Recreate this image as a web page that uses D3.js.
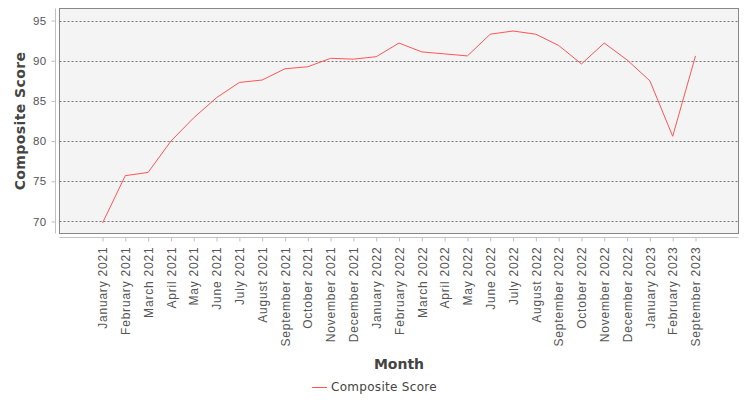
<!DOCTYPE html>
<html>
<head>
<meta charset="utf-8">
<script src="https://cdn.jsdelivr.net/npm/d3@7"></script>
<style>
  body { margin: 0; background: #fff; }
  svg { display: block; font-family: "DejaVu Sans", sans-serif; }
</style>
</head>
<body>
<div id="chart"></div>
<script>
const months = ['January 2021', 'February 2021', 'March 2021', 'April 2021', 'May 2021', 'June 2021',
	'July 2021', 'August 2021', 'September 2021', 'October 2021', 'November 2021', 'December 2021',
	'January 2022', 'February 2022', 'March 2022', 'April 2022', 'May 2022', 'June 2022',
	'July 2022', 'August 2022', 'September 2022', 'October 2022', 'November 2022', 'December 2022',
	'January 2023', 'February 2023', 'September 2023'];
const scores = [69.8, 75.7, 76.1, 80.0, 82.9, 85.4, 87.3, 87.6, 89.0, 89.25, 90.3, 90.2,
	90.5, 92.2, 91.1, 90.85, 90.6, 93.3, 93.7, 93.3, 91.9, 89.6, 92.2, 90.1,
	87.5, 80.6, 90.6];
const yTicks = [70, 75, 80, 85, 90, 95];

const w = 750;
const h = 400;
const plot = {left: 59.5, top: 8.5, right: 738.5, bottom: 233.5};

const svg = d3.select('#chart')
	.append('svg')
	.attr('width', w)
	.attr('height', h);

const x = d3.scalePoint()
	.domain(months)
	.range([plot.left + 43, plot.right - 43]);

const y = d3.scaleLinear()
	.domain([68.5, 96.5])
	.range([plot.bottom, plot.top]);

// plot background
svg.append('rect')
	.attr('x', plot.left)
	.attr('y', plot.top)
	.attr('width', plot.right - plot.left)
	.attr('height', plot.bottom - plot.top)
	.attr('fill', '#f4f4f4');

// grid lines
svg.append('g')
	.selectAll('line')
	.data(yTicks)
	.enter()
	.append('line')
	.attr('x1', plot.left)
	.attr('x2', plot.right)
	.attr('y1', d => Math.round(y(d)) + 0.5)
	.attr('y2', d => Math.round(y(d)) + 0.5)
	.attr('stroke', '#777')
	.attr('stroke-width', 1)
	.attr('stroke-dasharray', '2,2');

// plot border
svg.append('rect')
	.attr('x', plot.left)
	.attr('y', plot.top)
	.attr('width', plot.right - plot.left)
	.attr('height', plot.bottom - plot.top)
	.attr('fill', 'none')
	.attr('stroke', '#888');

// y axis
const yAxis = svg.append('g')
	.attr('transform', 'translate(55.5,0)')
	.call(d3.axisLeft(y).tickValues(yTicks).tickSize(4).tickPadding(5));
yAxis.select('.domain').attr('stroke', '#c0c0c0').attr('d', `M0,${plot.top}V${plot.bottom}`);
yAxis.selectAll('.tick line').attr('stroke', '#c0c0c0');
yAxis.selectAll('.tick text')
	.attr('fill', '#555')
	.attr('font-size', '11.5px')
	.attr('letter-spacing', '0.3px');

// x axis
const xAxis = svg.append('g')
	.attr('transform', 'translate(0,237.5)')
	.call(d3.axisBottom(x).tickSize(4).tickPadding(4));
xAxis.select('.domain').attr('stroke', '#c0c0c0').attr('d', `M${plot.left},0H${plot.right}`);
xAxis.selectAll('.tick line').attr('stroke', '#c0c0c0');
xAxis.selectAll('.tick text')
	.attr('fill', '#555')
	.attr('font-size', '12px')
	.attr('letter-spacing', '0.8px')
	.attr('text-anchor', 'end')
	.attr('dy', '0.35em')
	.attr('transform', 'translate(0,9) rotate(-90)')
	.attr('x', 0)
	.attr('y', 0);

// axis titles
svg.append('text')
	.attr('transform', `translate(25,${(plot.top + plot.bottom) / 2}) rotate(-90)`)
	.attr('text-anchor', 'middle')
	.attr('font-size', '14px')
	.attr('font-weight', 'bold')
	.attr('letter-spacing', '0.4px')
	.attr('fill', '#444')
	.text('Composite Score');

svg.append('text')
	.attr('x', (plot.left + plot.right) / 2)
	.attr('y', 369)
	.attr('text-anchor', 'middle')
	.attr('font-size', '14px')
	.attr('font-weight', 'bold')
	.attr('fill', '#444')
	.text('Month');

// line
const line = d3.line()
	.x((d, i) => x(months[i]))
	.y(d => y(d));

svg.append('path')
	.datum(scores)
	.attr('d', line)
	.attr('fill', 'none')
	.attr('stroke', '#ff5555')
	.attr('stroke-width', 1);

// legend
const legend = svg.append('g').attr('transform', 'translate(312,387)');
legend.append('line')
	.attr('x1', 0).attr('x2', 15)
	.attr('y1', 0.5).attr('y2', 0.5)
	.attr('stroke', '#ff5555');
legend.append('text')
	.attr('x', 19)
	.attr('y', 0)
	.attr('dy', '0.35em')
	.attr('font-size', '12px')
	.attr('letter-spacing', '0.3px')
	.attr('fill', '#444')
	.text('Composite Score');
</script>
</body>
</html>
